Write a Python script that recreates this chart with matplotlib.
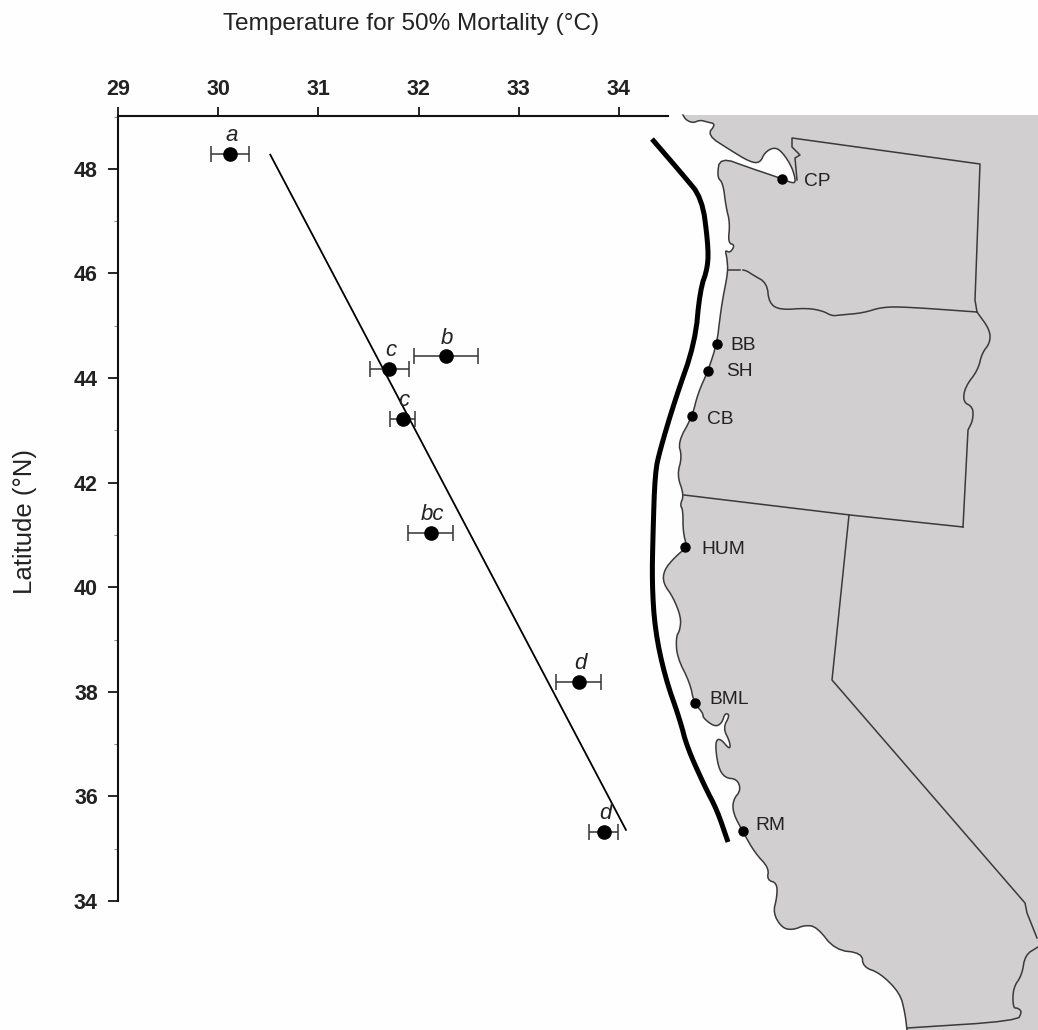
import matplotlib
matplotlib.use('Agg')
import matplotlib.pyplot as plt
from matplotlib.patches import Polygon
from matplotlib.ticker import MultipleLocator

plt.rcParams['font.family'] = ['Liberation Sans', 'DejaVu Sans']

# mortality data
temp = [30.12, 32.27, 31.71, 31.84, 32.12, 33.60, 33.85]
lat = [48.29, 44.42, 44.18, 43.22, 41.04, 38.19, 35.32]
temp_err = [0.19, 0.32, 0.19, 0.125, 0.225, 0.225, 0.145]
letters = ['a', 'b', 'c', 'c', 'bc', 'd', 'd']
fit_temp = [30.52, 34.07]
fit_lat = [48.27, 35.36]

# map, in image pixels
coast_x = [683, 686, 693, 700, 707, 716, 707, 730, 750, 760, 765, 775, 783, 792, 796, 792, 783, 750, 720, 717, 723,
           726, 730, 728, 735, 730, 725, 727, 728, 723, 720, 717, 708, 698, 692, 678, 682, 677, 684, 680,
           683, 683, 687, 675, 664, 663, 673, 681, 680, 676, 677, 690, 694, 703, 703, 715, 722, 725, 730,
           723, 730, 730, 720, 715, 718, 725, 737, 741, 733, 733, 743, 755, 769, 767, 777, 777, 773, 782,
           793, 805, 817, 835, 862, 863, 880, 900, 905, 907]
coast_y = [115, 120, 123, 120, 122, 124, 135, 150, 162, 163, 152, 147, 153, 167, 182, 183, 179, 168, 157, 177, 183,
           207, 223, 243, 245, 253, 250, 258, 272, 297, 317, 343, 371, 393, 417, 442, 457, 475, 495, 505,
           510, 532, 547, 557, 570, 583, 597, 617, 630, 637, 657, 683, 703, 713, 718, 727, 723, 713, 715,
           728, 742, 750, 738, 742, 767, 778, 779, 790, 800, 813, 832, 853, 868, 880, 883, 897, 913, 928,
           930, 925, 927, 950, 953, 967, 973, 993, 1013, 1030]
south_x = [907, 1017, 1022, 1018, 1013, 1013, 1022, 1025, 1038]
south_y = [1028, 1021, 1012, 1008, 1008, 988, 975, 955, 947]
wa_x = [797, 795, 800, 792, 792, 980, 975, 977]
wa_y = [180, 158, 155, 147, 138, 164, 300, 312]
spur_x = [728, 740]
spur_y = [270, 270]
wa_or_x = [743, 747, 753, 767, 769, 780, 807, 823, 832, 840, 863, 882, 907, 977]
wa_or_y = [270, 271, 275, 283, 303, 310, 308, 311, 316, 315, 313, 307, 307, 312]
or_east_x = [977, 990, 990, 982, 978, 965, 963, 973, 973, 968, 963]
or_east_y = [312, 330, 343, 353, 370, 387, 402, 407, 420, 430, 527]
or_south_x = [684, 850, 963]
or_south_y = [495, 515, 527]
ca_nv_x = [849, 832, 1025, 1027, 1037]
ca_nv_y = [515, 680, 903, 913, 938]
thick_x = [652, 683, 702, 708, 708, 700, 695, 675, 660, 655, 653, 652, 655, 665, 680, 687, 705, 717, 728]
thick_y = [139, 175, 198, 243, 267, 290, 343, 400, 450, 473, 533, 583, 630, 677, 720, 747, 787, 810, 842]
site_names = ['CP', 'BB', 'SH', 'CB', 'HUM', 'BML', 'RM']
site_x = [782, 717, 708, 692, 685, 695, 743]
site_y = [179, 344, 371, 416, 547, 703, 831]
label_x = [804, 730, 726, 707, 701, 709, 755]
label_y = [182, 346, 372, 419, 549, 699, 826]

W, H = 1038, 1030


def smooth(xs, ys, n=2):
    # corner cutting, keeps the end points
    for _ in range(n):
        nx, ny = [xs[0]], [ys[0]]
        for i in range(len(xs)-1):
            nx += [0.75*xs[i]+0.25*xs[i+1], 0.25*xs[i]+0.75*xs[i+1]]
            ny += [0.75*ys[i]+0.25*ys[i+1], 0.25*ys[i]+0.75*ys[i+1]]
        nx.append(xs[-1])
        ny.append(ys[-1])
        xs, ys = nx, ny
    return xs, ys


fig = plt.figure(figsize=(W/100, H/100), dpi=100, facecolor='#fefefe')

# map layer
m = fig.add_axes([0, 0, 1, 1])
m.set_xlim(0, W)
m.set_ylim(H, 0)
m.axis('off')
cx, cy = smooth(coast_x, coast_y)
sx, sy = smooth(south_x, south_y)
ex, ey = smooth(or_east_x[:-1], or_east_y[:-1])
ex, ey = ex+or_east_x[-1:], ey+or_east_y[-1:]
wx, wy = smooth(wa_or_x, wa_or_y)
tx, ty = smooth(thick_x, thick_y)

land = list(zip(cx, cy)) + [(W, H), (W, 115)]
m.add_patch(Polygon(land, closed=True, fc='#d2cfd0', ec='none'))
line_col = '#3a3a3a'
for xs, ys in [(cx, cy), (sx, sy), (wa_x, wa_y), (wx, wy), (spur_x, spur_y),
               (ex, ey), (or_south_x, or_south_y), (ca_nv_x, ca_nv_y)]:
    m.plot(xs, ys, color=line_col, lw=1.1, solid_joinstyle='round')
m.plot(tx, ty, color='black', lw=3.6, solid_capstyle='butt')
m.plot(site_x, site_y, 'o', color='black', ms=6.5)
for name, x, y in zip(site_names, label_x, label_y):
    m.text(x, y, name, fontsize=13.8, color='#222222', va='center', ha='left')

# chart layer
ax = fig.add_axes([118/W, 1-901/H, (668-118)/W, (901-116)/H])
ax.patch.set_alpha(0)
ax.set_xlim(29, 34.49)
ax.set_ylim(34, 49.01)
ax.xaxis.tick_top()
ax.xaxis.set_label_position('top')
for s in ['right', 'bottom']:
    ax.spines[s].set_visible(False)
for s in ['top', 'left']:
    ax.spines[s].set_linewidth(1.5)
    ax.spines[s].set_color('#111111')
ax.set_xticks(range(29, 35))
ax.set_yticks(range(34, 49, 2))
ax.yaxis.set_minor_locator(MultipleLocator(1))
ax.tick_params(axis='x', length=6.5, width=1.2, pad=5, labelsize=15.5)
ax.tick_params(axis='y', length=7, width=1.2, pad=7.5, labelsize=15.5)
ax.tick_params(axis='y', which='minor', length=3, width=0.7, color='#888888')
for t in ax.get_xticklabels() + ax.get_yticklabels():
    t.set_fontweight('bold')
    t.set_color('#222222')

ax.plot(fit_temp, fit_lat, color='black', lw=1.3)
ax.errorbar(temp, lat, xerr=temp_err, fmt='o', color='black', ecolor='#333333', ms=9.5, elinewidth=1.1, capsize=6, capthick=1.1)
for t, l, s in zip(temp, lat, letters):
    ax.annotate(s, (t, l), xytext=(1, 9), textcoords='offset points', style='italic',
                ha='center', va='baseline', fontsize=16, color='#222222')

fig.text(411/W, 1-24/H, 'Temperature for 50% Mortality (°C)', fontsize=17.6, color='#222222', ha='center', va='center')
fig.text(25/W, 1-522/H, 'Latitude (°N)', fontsize=18.5, color='#222222', rotation=90, ha='center', va='center')

fig.savefig('out.png', dpi=100, facecolor=fig.get_facecolor())
